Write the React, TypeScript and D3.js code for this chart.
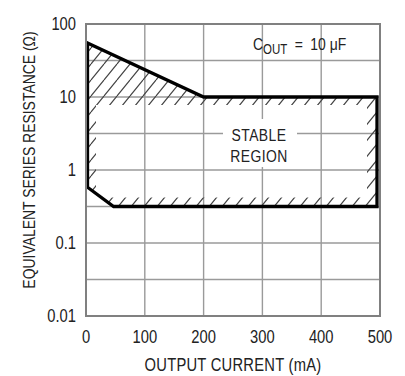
import { scaleLinear, scaleLog, line } from "d3";
import type { ReactNode } from "react";

// ESR stability chart (C_OUT = 10 uF)
const xTicks = [0, 100, 200, 300, 400, 500];
const xTickLabels = ["0", "100", "200", "300", "400", "500"];
const yTicks = [0.01, 0.1, 1, 10, 100];
const yTickLabels = ["0.01", "0.1", "1", "10", "100"];
// horizontal grid every half decade
const yGrid = [0.0316, 0.1, 0.316, 1, 3.16, 10, 31.6];

// stable region boundary (mA, ohm)
const boundaryCurrent = [0, 200, 500, 500, 47, 0];
const boundaryEsr = [55, 10, 10, 0.316, 0.316, 0.58];

const FONT = "'Liberation Sans', Arial, sans-serif";
const NARROW = 0.82; // condensed look

function Txt({
  x,
  y,
  rotate = 0,
  size = 18,
  anchor = "middle",
  dy,
  spacing = 0,
  children,
}: {
  x: number;
  y: number;
  rotate?: number;
  size?: number;
  anchor?: string;
  dy?: string;
  spacing?: number;
  children: ReactNode;
}) {
  return (
    <text
      transform={`translate(${x},${y}) rotate(${rotate}) scale(${NARROW},1)`}
      fontSize={size}
      textAnchor={anchor}
      dy={dy}
      letterSpacing={spacing}
      fill="#222"
    >
      {children}
    </text>
  );
}

export default function App() {
  const width = 405,
    height = 376;
  const margin = { top: 24, right: 25, bottom: 60, left: 86 };
  const x = scaleLinear([0, 500], [margin.left, width - margin.right]);
  const y = scaleLog([0.01, 100], [height - margin.bottom, margin.top]);
  const [x0, x1] = x.range();
  const [y0, y1] = y.range();

  // thick outline sits just inside the frame
  const inset = (v: number) => Math.min(Math.max(x(v), x0 + 1.5), x1 - 3);
  const pts: [number, number][] = boundaryCurrent.map((c, i) => [inset(c), y(boundaryEsr[i])]);
  const outline = line()(pts) + "Z";

  const hw = 13,
    hh = 16;

  return (
    <svg
      width={width}
      height={height}
      style={{ position: "absolute", left: 0, top: 0, background: "#fff" }}
      fontFamily={FONT}
    >
      <defs>
        <pattern id="hatch" patternUnits="userSpaceOnUse" width={hw} height={hh}>
          <path
            d={`M${-hw},${hh}L0,0M0,${hh}L${hw},0M${hw},${hh}L${2 * hw},0`}
            stroke="#444"
            strokeWidth={1.2}
            fill="none"
          />
        </pattern>
        <clipPath id="region">
          <path d={outline} />
        </clipPath>
        <mask id="band">
          <rect x={0} y={0} width={width} height={height} fill="#fff" />
          <rect
            x={x(0) + 10}
            y={y(10) + 8}
            width={x(500) - 13 - (x(0) + 10)}
            height={y(0.316) - 9 - (y(10) + 8)}
            fill="#000"
          />
        </mask>
      </defs>

      {/* grid */}
      <g stroke="#9a9a9a" strokeWidth={1.4}>
        {xTicks.slice(1, -1).map((t) => (
          <line key={t} x1={x(t)} x2={x(t)} y1={y1} y2={y0} />
        ))}
        {yGrid.map((t) => (
          <line key={t} x1={x0} x2={x1} y1={y(t)} y2={y(t)} />
        ))}
      </g>

      {/* hatched band inside boundary */}
      <g clipPath="url(#region)">
        <rect
          x={x0}
          y={y1}
          width={x1 - x0}
          height={y0 - y1}
          fill="url(#hatch)"
          mask="url(#band)"
        />
      </g>

      {/* annotation */}
      <rect x={223} y={119} width={74} height={48} fill="#fff" />
      <Txt x={259} y={141} size={17} spacing={0.5}>STABLE</Txt>
      <Txt x={259} y={162} size={17} spacing={0.5}>REGION</Txt>

      <Txt x={253} y={50} size={17} anchor="start">
        C
        <tspan fontSize={14} dy={4}>
          OUT
        </tspan>
        <tspan dy={-4} dx={9}>=</tspan>
        <tspan dx={9}>10</tspan>
        <tspan dx={5}>{"\u03bcF"}</tspan>
      </Txt>

      {/* boundary */}
      <path d={outline} fill="none" stroke="#000" strokeWidth={3.3} strokeLinejoin="miter" />

      {/* frame */}
      <rect
        x={x0}
        y={y1}
        width={x1 - x0}
        height={y0 - y1}
        fill="none"
        stroke="#808080"
        strokeWidth={2}
      />

      {/* axes labels */}
      {yTicks.map((t, i) => (
        <Txt key={t} x={x0 - 10} y={y(t)} dy="0.35em" anchor="end">
          {yTickLabels[i]}
        </Txt>
      ))}
      {xTicks.map((t, i) => (
        <Txt key={t} x={x(t)} y={343}>
          {xTickLabels[i]}
        </Txt>
      ))}
      <Txt x={233} y={371} spacing={0.3}>OUTPUT CURRENT (mA)</Txt>
      <Txt x={35} y={160} rotate={-90} size={17}>
        EQUIVALENT SERIES RESISTANCE ({"\u03a9"})
      </Txt>
    </svg>
  );
}
